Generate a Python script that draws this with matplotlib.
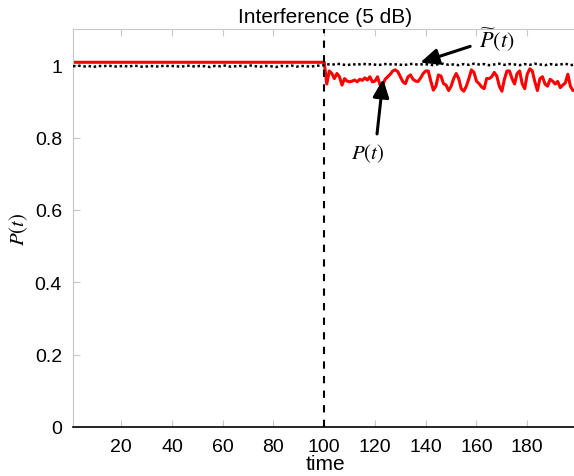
import numpy as np
import matplotlib
matplotlib.use("Agg")
import matplotlib.pyplot as plt

plt.rcParams['font.family'] = ['Liberation Sans', 'DejaVu Sans']
plt.rcParams['mathtext.fontset'] = 'stix'

# ---- data ----
t_event = 100
red_pre_t = [1, 100]
red_pre_v = [1.008, 1.008]
red_post_t = list(range(101, 200))
red_post_v = [0.948, 0.984, 0.977, 0.963, 0.977, 0.968, 0.945, 0.963, 0.956, 0.954,
              0.956, 0.959, 0.954, 0.961, 0.958, 0.965, 0.959, 0.968, 0.954, 0.956,
              0.968, 0.945, 0.945, 0.961, 0.968, 0.975, 0.984, 0.987, 0.982, 0.968,
              0.954, 0.949, 0.968, 0.973, 0.961, 0.956, 0.955, 0.965, 0.977, 0.984,
              0.984, 0.956, 0.931, 0.942, 0.973, 0.970, 0.949, 0.945, 0.930, 0.942,
              0.963, 0.977, 0.963, 0.935, 0.928, 0.942, 0.963, 0.987, 0.980, 0.956,
              0.949, 0.940, 0.935, 0.963, 0.963, 0.968, 0.980, 0.970, 0.942, 0.928,
              0.961, 0.984, 0.984, 0.963, 0.948, 0.977, 0.984, 0.949, 0.935, 0.975,
              0.990, 0.984, 0.954, 0.930, 0.963, 0.968, 0.948, 0.942, 0.961, 0.956,
              0.948, 0.955, 0.938, 0.945, 0.951, 0.975, 0.942, 0.930, 0.930]

black_t = list(range(1, 200, 2))
black_v = [0.997, 0.999, 0.996, 0.998, 0.995, 0.998, 0.997, 0.999, 0.996, 0.997,
           0.998, 0.996, 0.999, 0.997, 0.995, 0.998, 0.997, 0.996, 0.999, 0.997,
           0.998, 0.996, 0.997, 0.999, 0.996, 0.998, 0.997, 0.995, 0.998, 0.997,
           0.999, 0.996, 0.997, 0.998, 0.996, 0.999, 0.997, 0.996, 0.998, 0.997,
           0.995, 0.998, 0.997, 0.999, 0.996, 0.998, 0.997, 0.996, 0.999, 0.998,
           1.003, 1.001, 1.004, 1.002, 1.000, 1.003, 1.001, 1.004, 1.002, 1.003,
           1.000, 1.002, 1.004, 1.001, 1.003, 1.000, 1.002, 1.004, 1.001, 1.003,
           1.002, 1.000, 1.003, 1.004, 1.001, 1.002, 1.000, 1.003, 1.001, 1.004,
           1.002, 1.003, 1.000, 1.002, 1.004, 1.001, 1.003, 1.002, 1.000, 1.003,
           1.001, 1.004, 1.002, 1.000, 1.003, 1.001, 1.002, 1.004, 1.000, 1.002]

xticks = [20, 40, 60, 80, 100, 120, 140, 160, 180]
yticks = [0, 0.2, 0.4, 0.6, 0.8, 1]
ytick_labels = ['0', '0.2', '0.4', '0.6', '0.8', '1']

# ---- figure ----
W, H = 574, 477
fig = plt.figure(figsize=(W / 100, H / 100), dpi=100)
ax_left, ax_right, ax_top, ax_bot = 73, 578, 30, 428
ax = fig.add_axes([ax_left / W, 1 - ax_bot / H, (ax_right - ax_left) / W, (ax_bot - ax_top) / H])

ax.plot(black_t, black_v, color='black', lw=1.8, dashes=(1, 1.1), zorder=3)
ax.plot(red_pre_t + red_post_t, red_pre_v + red_post_v, color='red', lw=2.2, zorder=2)
ax.axvline(t_event, color='black', lw=1.5, dashes=(3.5, 3.5), zorder=4)

ax.set_xlim(1, 200)
ax.set_ylim(0, 1.1)
ax.set_xticks(xticks)
ax.set_xticklabels([str(v) for v in xticks])
ax.set_yticks(yticks)
ax.set_yticklabels(ytick_labels)

gray = '#c8c8c8'
for s in ['left', 'top', 'right']:
    ax.spines[s].set_color(gray)
ax.spines['bottom'].set_color('black')
ax.spines['bottom'].set_linewidth(1.2)
ax.tick_params(direction='in', length=5, color=gray, labelsize=14, pad=8, top=True)
ax.tick_params(axis='x', pad=8)

ax.set_title('Interference (5 dB)', fontsize=15, pad=5)
ax.set_xlabel('time', fontsize=15, labelpad=-1)
ax.set_ylabel(r'$P(t)$', fontsize=15, labelpad=3)

ap = dict(arrowstyle='-|>,head_length=0.5,head_width=0.22', color='black', lw=2.2,
          mutation_scale=22, shrinkA=0, shrinkB=0)
ax.annotate('', xy=(137.8, 1.007), xytext=(157.5, 1.052), arrowprops=ap)
ax.text(168, 1.072, r'$\widetilde{P}(t)$', fontsize=16, ha='center', va='center')
ax.annotate('', xy=(123.2, 0.962), xytext=(120.8, 0.81), arrowprops=ap)
ax.text(117.3, 0.758, r'$P(t)$', fontsize=15, ha='center', va='center')

fig.savefig('out.png', dpi=100)
